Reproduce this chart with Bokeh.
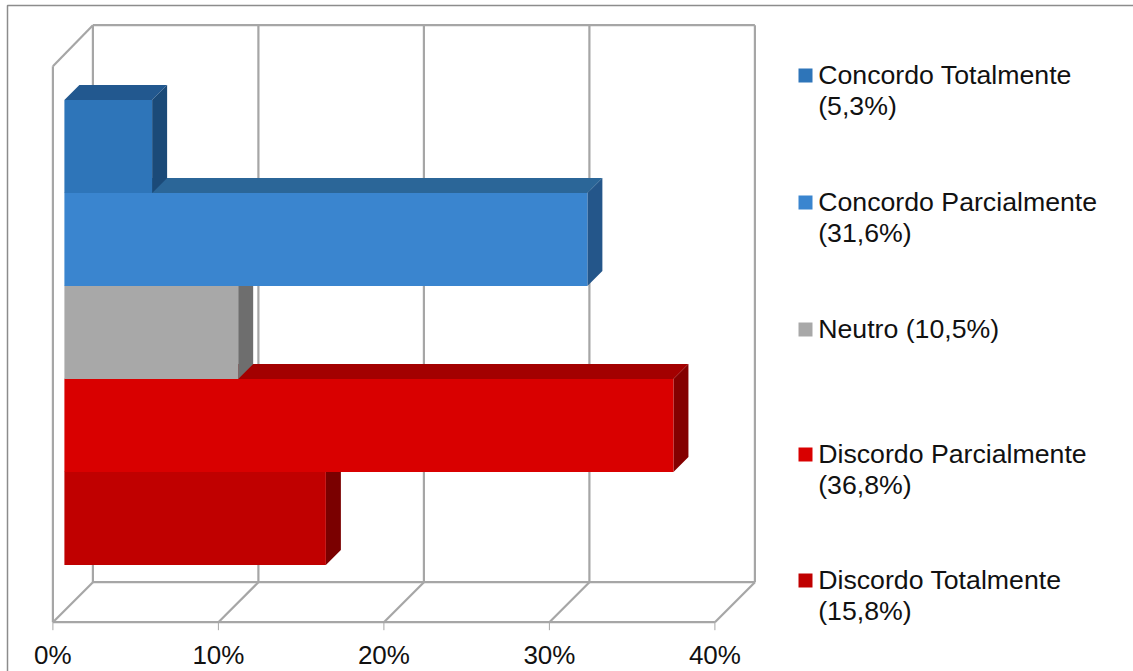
from bokeh.embed import file_html
from bokeh.resources import INLINE
from bokeh.plotting import figure
from bokeh.models import Range1d
from bokeh.core.properties import value

# Survey answers, top bar first
categories = ["Concordo Totalmente", "Concordo Parcialmente", "Neutro",
              "Discordo Parcialmente", "Discordo Totalmente"]
percentages = [5.3, 31.6, 10.5, 36.8, 15.8]
front_colors = ["#2E75B9", "#3A85CF", "#A8A8A8", "#D90000", "#C00000"]
top_colors = ["#22588F", "#2B6698", "#8A8A8A", "#A30000", "#930000"]
side_colors = ["#1B4A78", "#24568A", "#6E6E6E", "#840000", "#7A0000"]
legend_lines = [["Concordo Totalmente", "(5,3%)"],
                ["Concordo Parcialmente", "(31,6%)"],
                ["Neutro (10,5%)"],
                ["Discordo Parcialmente", "(36,8%)"],
                ["Discordo Totalmente", "(15,8%)"]]
x_ticks = [0, 10, 20, 30, 40]
x_tick_labels = ["0%", "10%", "20%", "30%", "40%"]

WIDTH, HEIGHT = 1133, 671
FLOOR_PX = 621.7        # canvas row of the front floor edge
ZERO_PX = 52.4          # canvas column of 0 %
PX_PER_PCT = 16.55
BAR_PX = 93             # height of one bar's front face
BARS_BOTTOM_PX = 564.6
GRID = "#A6A6A6"
GRID_WIDTH = 2.2
FONT = value("Liberation Sans")


def col(px):
    return (px - ZERO_PX) / PX_PER_PCT


def row(py):
    return (BARS_BOTTOM_PX - py) / BAR_PX


p = figure(width=WIDTH, height=HEIGHT, output_backend="svg", toolbar_location=None,
           x_axis_location=None, y_axis_location=None,
           x_range=Range1d(col(0), col(WIDTH)), y_range=Range1d(row(HEIGHT), row(0)),
           min_border_left=0, min_border_right=0, min_border_top=0, min_border_bottom=0)
p.grid.visible = False
p.outline_line_color = None
p.background_fill_color = "white"
p.border_fill_color = "white"

# Chart area border, open towards the right and bottom edges of the canvas
p.line(x=[col(WIDTH), col(7), col(7)], y=[row(5), row(5), row(HEIGHT)],
       line_color="#8C8C8C", line_width=1.5)

# Box walls: back wall, floor and left wall, with a 40 px perspective offset
wall_dx = col(ZERO_PX + 40)
wall_top = row(24.7)
wall_bottom = row(581.7)
front_top = row(65.7)
front_bottom = row(FLOOR_PX)
tick_end = row(FLOOR_PX + 8)
p.segment(x0=[t + wall_dx for t in x_ticks], y0=wall_bottom,
          x1=[t + wall_dx for t in x_ticks], y1=wall_top, line_color=GRID, line_width=GRID_WIDTH)
p.segment(x0=[wall_dx], y0=wall_top, x1=[40 + wall_dx], y1=wall_top, line_color=GRID, line_width=GRID_WIDTH)
p.segment(x0=[wall_dx], y0=wall_bottom, x1=[40 + wall_dx], y1=wall_bottom, line_color=GRID, line_width=GRID_WIDTH)
p.segment(x0=[0], y0=front_bottom, x1=[40], y1=front_bottom, line_color=GRID, line_width=GRID_WIDTH)
p.segment(x0=x_ticks, y0=front_bottom, x1=[t + wall_dx for t in x_ticks], y1=wall_bottom,
          line_color=GRID, line_width=GRID_WIDTH)
p.segment(x0=[0], y0=front_bottom, x1=[0], y1=front_top, line_color=GRID, line_width=GRID_WIDTH)
p.segment(x0=[0], y0=front_top, x1=[wall_dx], y1=wall_top, line_color=GRID, line_width=GRID_WIDTH)

# Percentage axis ticks and labels under the front floor edge
p.segment(x0=x_ticks, y0=front_bottom, x1=x_ticks, y1=tick_end, line_color=GRID, line_width=1)
p.text(x=x_ticks, y=[row(654)] * len(x_ticks), text=x_tick_labels, text_font=FONT,
       text_font_size="26px", text_color="#111111", text_align="center", text_baseline="alphabetic")

# Bars, painted from the lowest up so nearer faces overlap correctly
bar_dx = 11.5 / PX_PER_PCT
depth_x = 15 / PX_PER_PCT
depth_y = 15 / BAR_PX
count = len(percentages)
for i in range(count - 1, -1, -1):
    v = percentages[i]
    lo = count - 1 - i
    hi = lo + 1
    p.patch([bar_dx, bar_dx + v, bar_dx + v + depth_x, bar_dx + depth_x],
            [hi, hi, hi + depth_y, hi + depth_y], fill_color=top_colors[i], line_color=None)
    p.patch([bar_dx + v, bar_dx + v + depth_x, bar_dx + v + depth_x, bar_dx + v],
            [lo, lo + depth_y, hi + depth_y, hi], fill_color=side_colors[i], line_color=None)
    p.quad(left=bar_dx, right=bar_dx + v, bottom=lo, top=hi,
           fill_color=front_colors[i], line_color=None)

# Legend: swatch and one or two lines of text per answer
first_baselines = [83, 210, 337, 462, 588]
for lines, color, base in zip(legend_lines, front_colors, first_baselines):
    p.quad(left=col(798), right=col(812), top=row(base - 15), bottom=row(base - 1),
           fill_color=color, line_color=None)
    for k, line in enumerate(lines):
        p.text(x=[col(817.7)], y=[row(base - 9 + k * 31.5)], text=[line], text_font=FONT,
               text_font_size="26.7px", text_color="#111111", text_baseline="alphabetic")

open("out.html", "w").write(file_html(p, INLINE))
